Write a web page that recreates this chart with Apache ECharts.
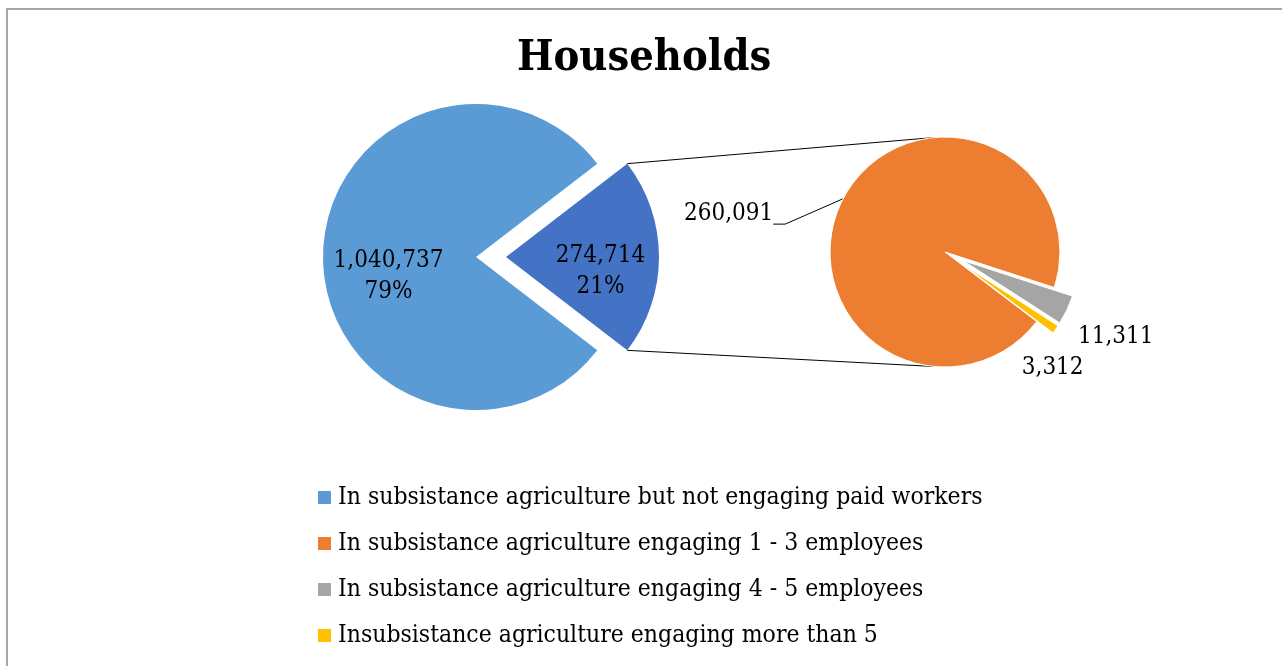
<!DOCTYPE html>
<html>
<head>
<meta charset="utf-8">
<script src="https://cdn.jsdelivr.net/npm/echarts@6/dist/echarts.min.js"></script>
<style>
html,body{margin:0;padding:0;background:#fff;}
#wrap{position:relative;width:1282px;height:666px;overflow:hidden;}
#frame{position:absolute;left:6px;top:8px;width:1400px;height:800px;border-top:2px solid #a6a6a6;border-left:2px solid #a6a6a6;box-sizing:border-box;}
#chart{position:absolute;left:0;top:0;width:1282px;height:666px;}
</style>
</head>
<body>
<div id="wrap"><div id="frame"></div><div id="chart"></div></div>
<script>
// ---- data ----
const title = 'Households';
const mainNames = ['In subsistance agriculture engaging paid workers', 'In subsistance agriculture but not engaging paid workers'];
const mainValues = [274714, 1040737];
const subNames = ['In subsistance agriculture engaging 4 - 5 employees', 'Insubsistance agriculture engaging more than 5', 'In subsistance agriculture engaging 1 - 3 employees'];
const subValues = [11311, 3312, 260091];
const legendNames = ['In subsistance agriculture but not engaging paid workers', 'In subsistance agriculture engaging 1 - 3 employees', 'In subsistance agriculture engaging 4 - 5 employees', 'Insubsistance agriculture engaging more than 5'];

// ---- layout / style ----
const FONT = "'DejaVu Serif Condensed', 'DejaVu Serif', serif";
const mainColors = ['#4472C4', '#5B9BD5'];
const subColors = ['#A5A5A5', '#FFC000', '#ED7D31'];
const mainC = [476, 257], mainR = 153, mainOff = 30;
const subC = [945, 252], subR = 115, subOff = 20;
const mainTotal = mainValues.reduce((a, b) => a + b, 0);
const halfExploded = mainValues[0] / mainTotal * 180; // degrees
const subStart = -18;

const fmt = v => Number(v).toLocaleString('en-US');

const chart = echarts.init(document.getElementById('chart'));

// connector lines derived from the geometry
const rad = halfExploded * Math.PI / 180;
const apexX = mainC[0] + mainOff;
const topPt = [apexX + mainR * Math.cos(rad), mainC[1] - mainR * Math.sin(rad)];
const botPt = [apexX + mainR * Math.cos(rad), mainC[1] + mainR * Math.sin(rad)];
const a2 = 95 * Math.PI / 180;
const subTop = [subC[0] + subR * Math.cos(a2), subC[1] - subR * Math.sin(a2)];
const subBot = [subC[0] + subR * Math.cos(a2), subC[1] + subR * Math.sin(a2)];

const mainLabelShift = [[15, 14], [-8, 19]];
const subLabelShift = [[-15, 23], [-59, 33], [-44, 20]];

chart.setOption({
  animation: false,
  title: {
    text: title, left: 517, top: 37, padding: 0,
    textStyle: {fontFamily: FONT, fontSize: 43, fontWeight: 'bold', color: '#000'}
  },
  legend: {
    data: legendNames, orient: 'vertical', left: 318, top: 485, padding: 0,
    itemWidth: 13, itemHeight: 13, icon: 'rect', itemGap: 21, selectedMode: false,
    itemStyle: {borderWidth: 0},
    textStyle: {fontFamily: FONT, fontSize: 24.5, color: '#000', lineHeight: 24, padding: [0, 0, 0, 2]}
  },
  graphic: [
    {type: 'line', shape: {x1: topPt[0], y1: topPt[1], x2: subTop[0], y2: subTop[1]}, style: {stroke: '#000', lineWidth: 1}, z: 0},
    {type: 'line', shape: {x1: botPt[0], y1: botPt[1], x2: subBot[0], y2: subBot[1]}, style: {stroke: '#000', lineWidth: 1}, z: 0}
  ],
  series: [
    {
      type: 'pie', center: mainC, radius: mainR, startAngle: halfExploded, clockwise: true,
      selectedMode: 'multiple', selectedOffset: mainOff, avoidLabelOverlap: false,
      emphasis: {disabled: true},
      label: {
        position: 'inside', fontFamily: FONT, fontSize: 24, color: '#000', lineHeight: 31,
        formatter: p => fmt(p.value) + '\n' + Math.round(p.percent) + '%'
      },
      labelLayout: p => ({dx: mainLabelShift[p.dataIndex][0], dy: mainLabelShift[p.dataIndex][1]}),
      data: mainValues.map((v, i) => ({name: mainNames[i], value: v, selected: i === 0, itemStyle: {color: mainColors[i]}}))
    },
    {
      type: 'pie', center: subC, radius: subR, startAngle: subStart, clockwise: true,
      selectedMode: 'multiple', selectedOffset: subOff, avoidLabelOverlap: false,
      emphasis: {disabled: true},
      itemStyle: {borderColor: '#fff', borderWidth: 1},
      label: {position: 'outside', fontFamily: FONT, fontSize: 24, color: '#000', formatter: p => fmt(p.value)},
      labelLine: {length: 10, length2: 12, lineStyle: {color: '#000', width: 1}},
      labelLayout: p => {
        const s = subLabelShift[p.dataIndex];
        const out = {dx: s[0], dy: s[1]};
        if (p.labelLinePoints) {
          const lr = p.labelRect;
          const right = lr.x + lr.width + s[0];
          const ly = lr.y + lr.height / 2 + s[1] + 10;
          out.labelLinePoints = [p.labelLinePoints[0], [right + 12, ly], [right, ly]];
        }
        return out;
      },
      data: subValues.map((v, i) => ({
        name: subNames[i], value: v, selected: i < 2, itemStyle: {color: subColors[i]},
        labelLine: {show: i === 2}
      }))
    }
  ]
});
</script>
</body>
</html>
